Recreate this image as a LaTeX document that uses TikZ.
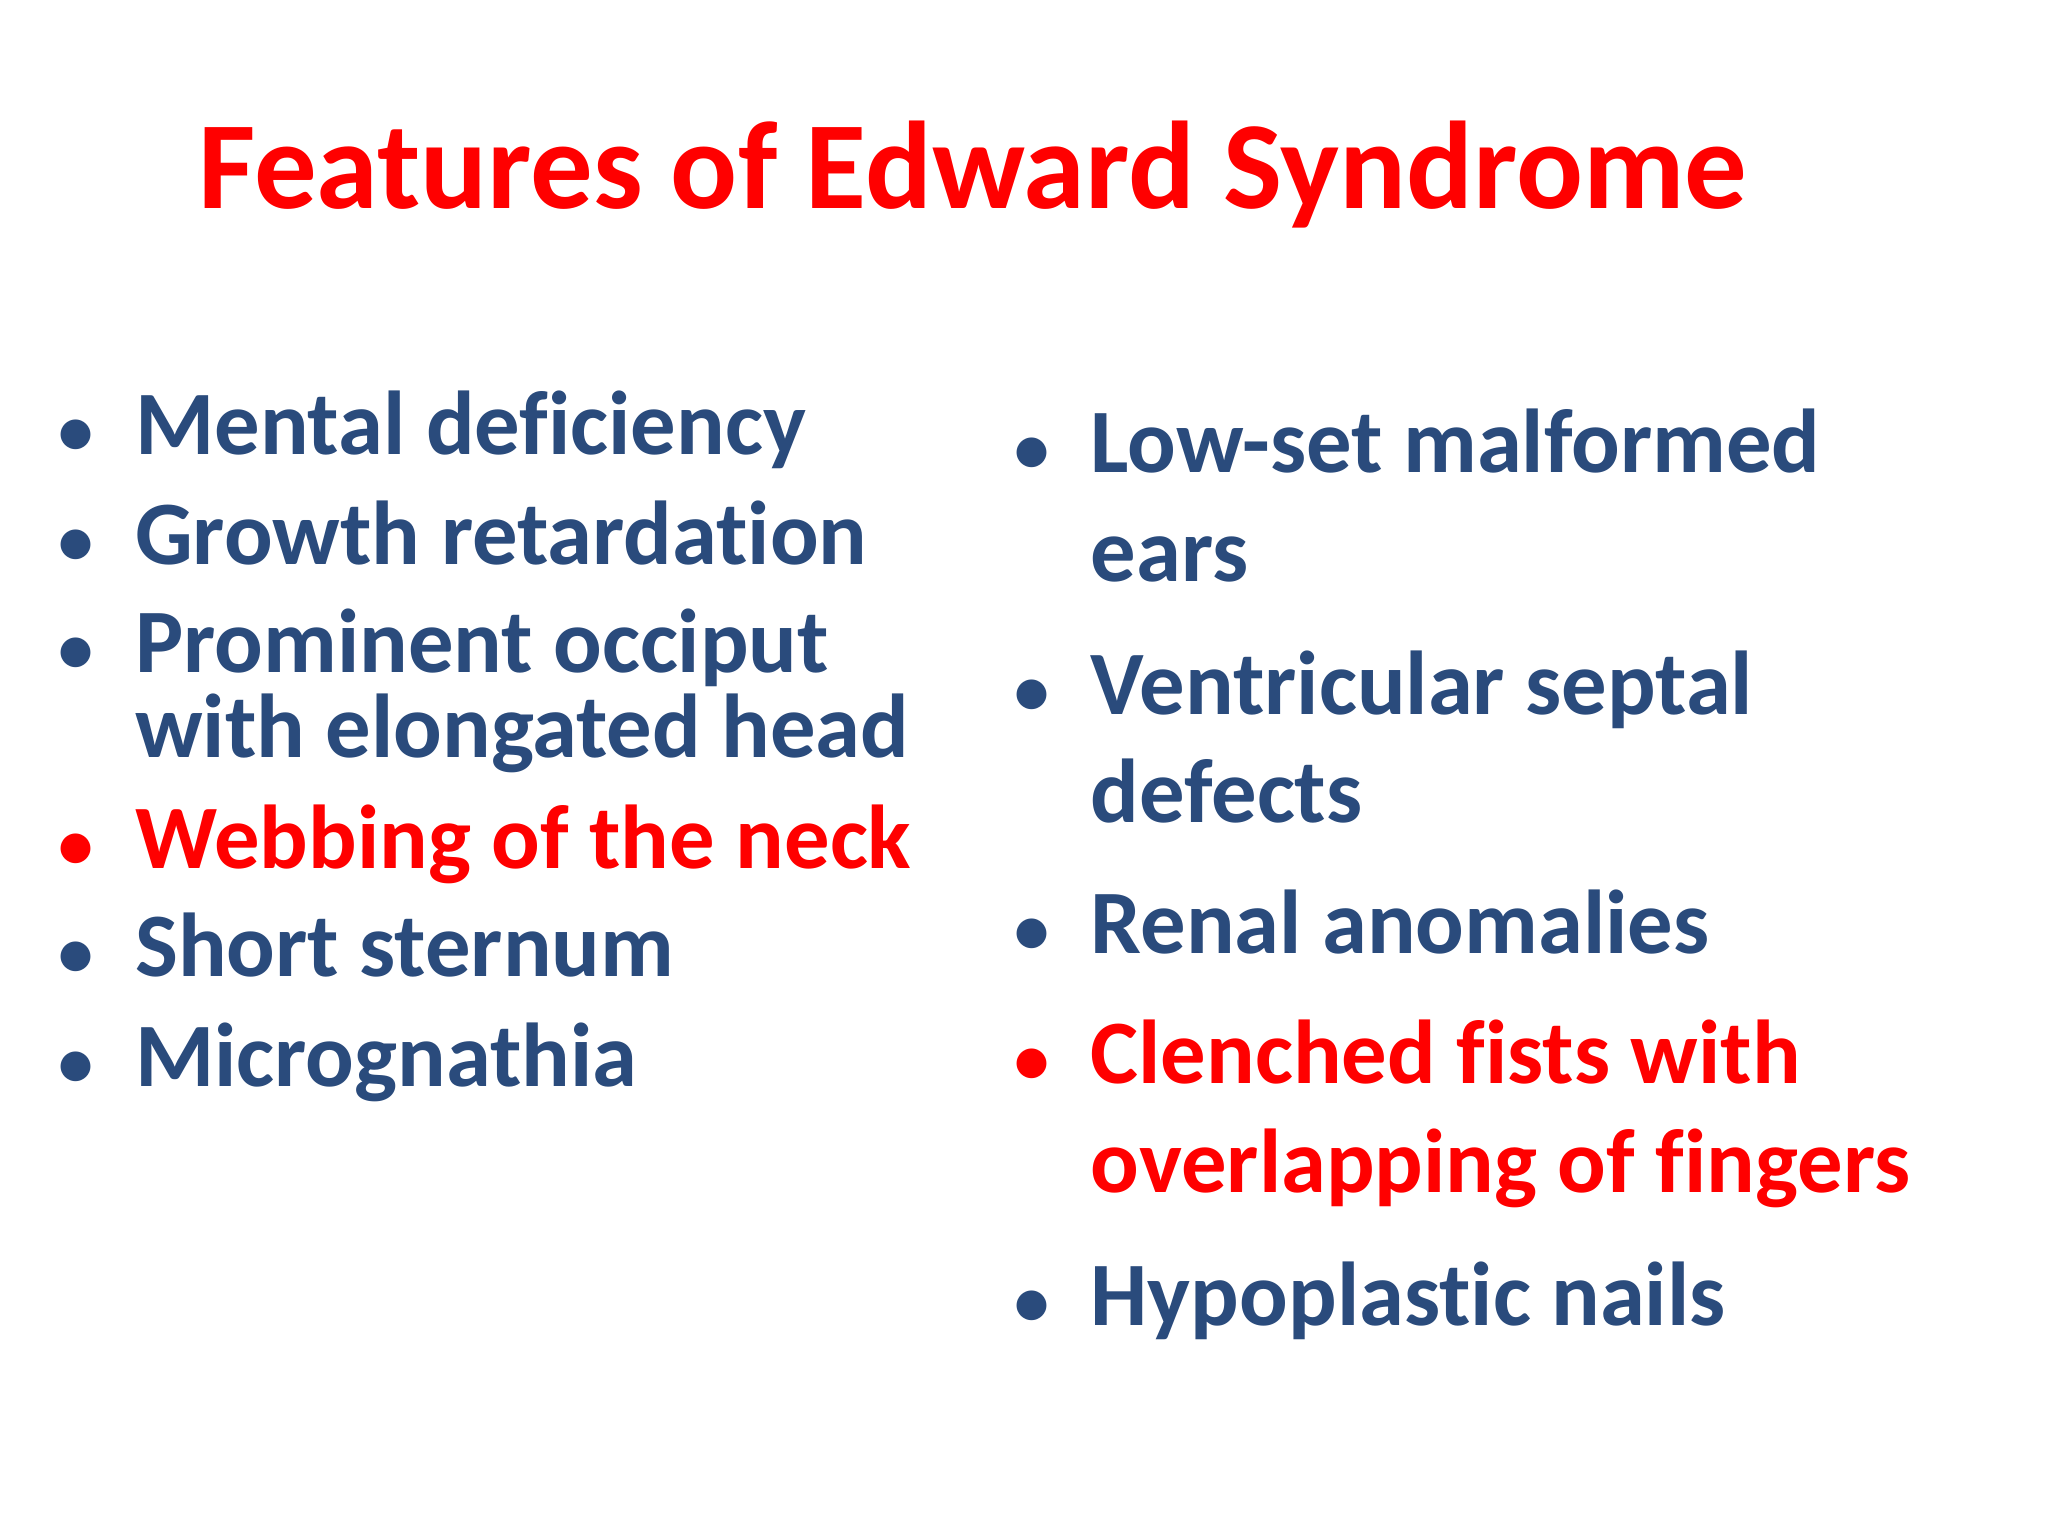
\documentclass[tikz,border=0pt]{standalone}
\usepackage{fontspec}
\setmainfont{Carlito}[Ligatures={NoCommon}]
\definecolor{itemblue}{HTML}{2A4B7C}
\definecolor{itemred}{HTML}{FF0000}
\tikzset{
  itm/.style={anchor=base west, inner sep=0pt, font=\fontsize{25.8}{28}\selectfont\bfseries, text=itemblue},
  bul/.style={anchor=base west, inner sep=0pt, font=\fontsize{20}{22}\selectfont\bfseries, text=itemblue},
  redt/.style={text=itemred}
}
\begin{document}
\begin{tikzpicture}[x=1cm,y=-1cm]
\fill[white] (0,0) rectangle (20.48,15.36);
\useasboundingbox (0,0) rectangle (20.48,15.36);
\node[anchor=base, inner sep=0pt, font=\fontsize{35.5}{40}\selectfont\bfseries, text=itemred] (title) at (9.73,2.09) {Features of Edward Syndrome};
% left column
\node[bul] (b1) at (0.58,4.545) {•};
\node[itm] (l1) at (1.345,4.545) {Mental deficiency};
\node[bul] (b2) at (0.58,5.642) {•};
\node[itm] (l2) at (1.345,5.642) {Growth retardation};
\node[bul] (b3) at (0.58,6.726) {•};
\node[itm] (l3) at (1.345,6.726) {Prominent occiput};
\node[itm] (l3b) at (1.345,7.575) {with elongated head};
\node[bul,redt] (b4) at (0.58,8.685) {•};
\node[itm,redt] (l4) at (1.345,8.685) {Webbing of the neck};
\node[bul] (b5) at (0.58,9.769) {•};
\node[itm] (l5) at (1.345,9.769) {Short sternum};
\node[bul] (b6) at (0.58,10.866) {•};
\node[itm] (l6) at (1.345,10.866) {Micrognathia};
% right column
\node[bul] (c1) at (10.14,4.728) {•};
\node[itm] (r1) at (10.9,4.728) {Low-set malformed};
\node[itm] (r1b) at (10.9,5.812) {ears};
\node[bul] (c2) at (10.14,7.144) {•};
\node[itm] (r2) at (10.9,7.144) {Ventricular septal};
\node[itm] (r2b) at (10.9,8.228) {defects};
\node[bul] (c3) at (10.14,9.534) {•};
\node[itm] (r3) at (10.9,9.534) {Renal anomalies};
\node[bul,redt] (c4) at (10.14,10.840) {•};
\node[itm,redt] (r4) at (10.9,10.840) {Clenched fists with};
\node[itm,redt] (r4b) at (10.9,11.924) {overlapping of fingers};
\node[bul] (c5) at (10.14,13.256) {•};
\node[itm] (r5) at (10.9,13.256) {Hypoplastic nails};
\end{tikzpicture}
\end{document}
